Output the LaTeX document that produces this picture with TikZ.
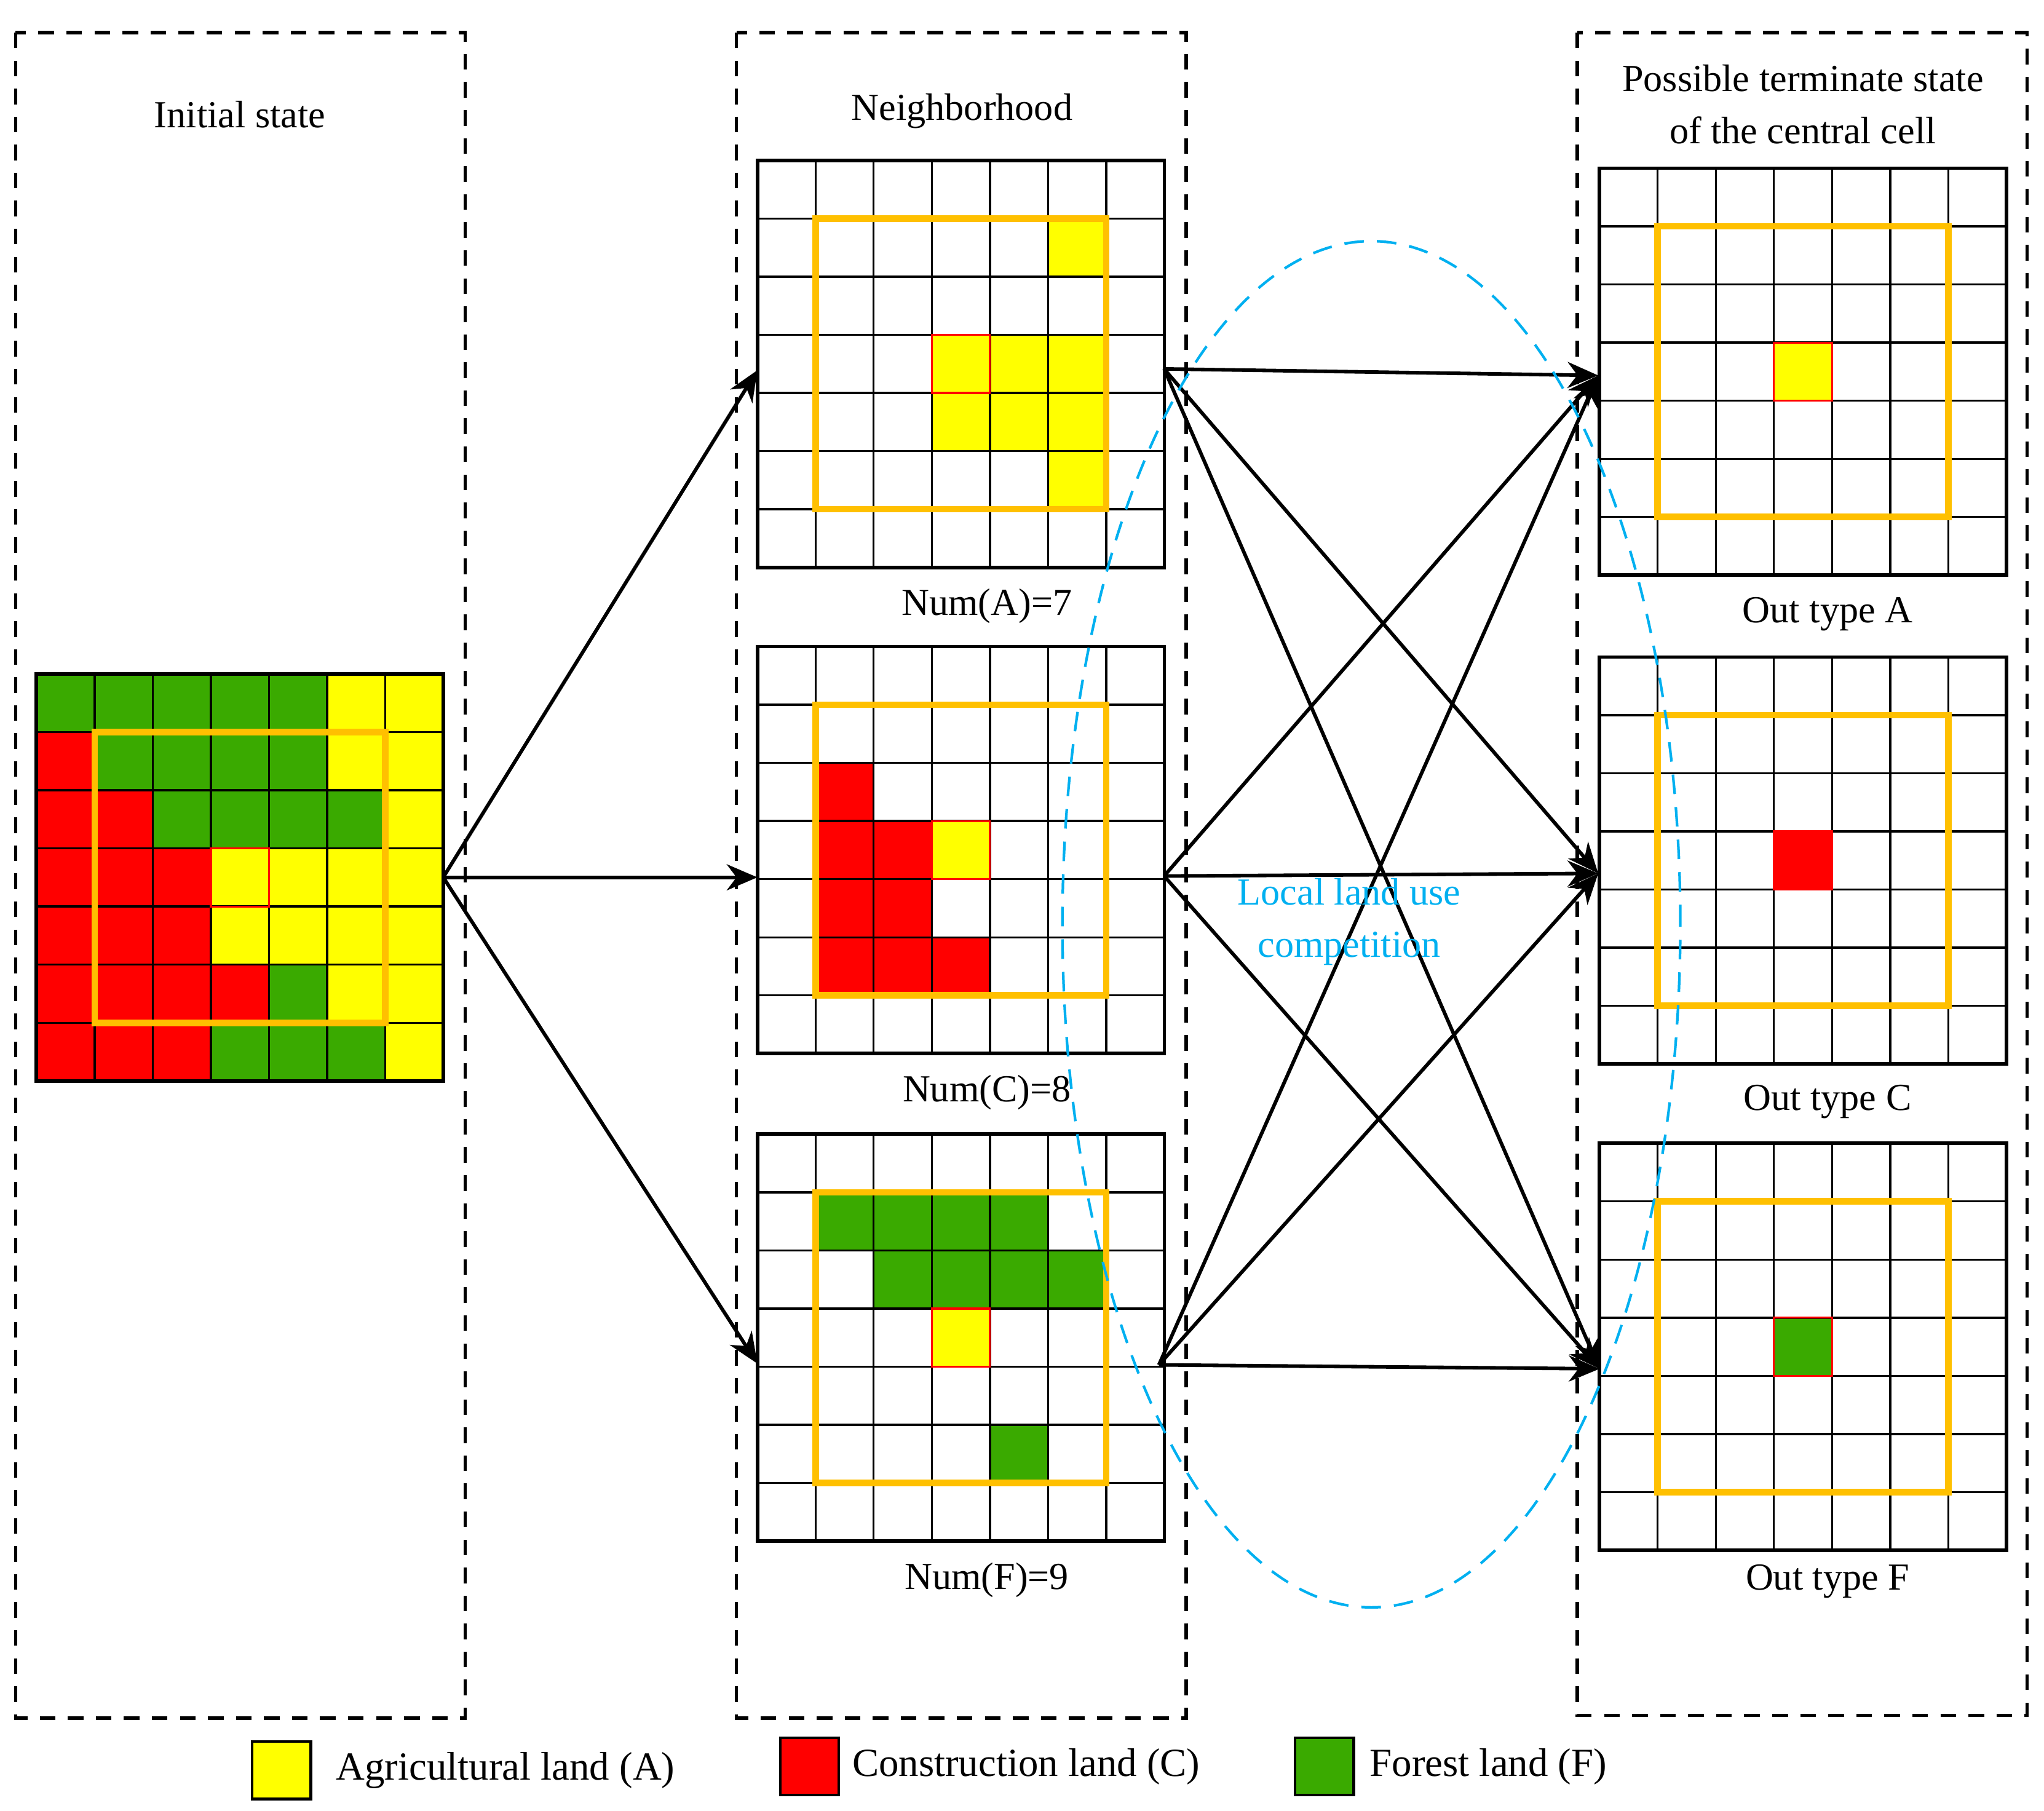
\documentclass[tikz,border=0pt]{standalone}
\usepackage{fontspec}
\setmainfont{Liberation Serif}
\usetikzlibrary{arrows.meta, positioning}

\definecolor{agri}{RGB}{255,255,0}
\definecolor{constr}{RGB}{255,0,0}
\definecolor{forest}{RGB}{58,170,0}
\definecolor{frame}{RGB}{255,192,0}
\definecolor{compete}{RGB}{0,176,240}

\begin{document}
\begin{tikzpicture}[x=0.2mm,y=-0.2mm]

\tikzset{panel/.style = {draw, line width=0.5mm, dash pattern=on 2.4mm off 1.9mm}}
\tikzset{edge/.style = {-{Stealth[length=4.7mm,width=4mm,inset=1.5mm]}, line width=0.55mm}}
\tikzset{txt/.style = {font=\fontsize{16.7}{22.7}\selectfont, align=center}}
\tikzset{keytxt/.style = {font=\fontsize{17.4}{21}\selectfont, inner sep=0pt}}
\tikzset{legendbox/.style = {draw, line width=0.4mm, minimum width=9mm, minimum height=8.8mm, inner sep=0pt}}
\tikzset{cells/.style 2 args = {shift={(#1,#2)}, x=8.92mm, y=-8.92mm}}
\tikzset{cellline/.style = {line width=0.32mm}}

\useasboundingbox (0,0) rectangle (1568,1389);

%panels
\draw[panel] (12,25) rectangle (357,1318);
\draw[panel] (565,25) rectangle (910,1318);
\draw[panel] (1210,25) rectangle (1555,1316);

%initial state
\begin{scope}[cells={28}{517}]
\foreach \row [count=\j from 0] in {
  {forest,forest,forest,forest,forest,agri,agri},
  {constr,forest,forest,forest,forest,agri,agri},
  {constr,constr,forest,forest,forest,forest,agri},
  {constr,constr,constr,agri,agri,agri,agri},
  {constr,constr,constr,agri,agri,agri,agri},
  {constr,constr,constr,constr,forest,agri,agri},
  {constr,constr,constr,forest,forest,forest,agri}}
  \foreach \c [count=\i from 0] in \row
    \fill[\c] (\i,\j) rectangle ++(1,1);
\end{scope}

%neighborhood
\begin{scope}[cells={581}{123}]
\foreach \i/\j in {5/1,3/3,4/3,5/3,3/4,4/4,5/4,5/5}
  \fill[agri] (\i,\j) rectangle ++(1,1);
\end{scope}
\begin{scope}[cells={581}{496}]
\foreach \i/\j in {1/2,1/3,2/3,1/4,2/4,1/5,2/5,3/5}
  \fill[constr] (\i,\j) rectangle ++(1,1);
\fill[agri] (3,3) rectangle ++(1,1);
\end{scope}
\begin{scope}[cells={581}{870}]
\foreach \i/\j in {1/1,2/1,3/1,4/1,2/2,3/2,4/2,5/2,4/5}
  \fill[forest] (\i,\j) rectangle ++(1,1);
\fill[agri] (3,3) rectangle ++(1,1);
\end{scope}

%terminate states
\fill[cells={1227}{129}, agri] (3,3) rectangle ++(1,1);
\fill[cells={1227}{504}, constr] (3,3) rectangle ++(1,1);
\fill[cells={1227}{877}, forest] (3,3) rectangle ++(1,1);

%grids
\foreach \gx/\gy in {28/517, 581/123, 581/496, 581/870, 1227/129, 1227/504, 1227/877}
{
  \begin{scope}[cells={\gx}{\gy}]
    \foreach \k in {1,...,6} {
      \draw[cellline] (\k,0) -- (\k,7);
      \draw[cellline] (0,\k) -- (7,\k);
    }
    \draw[line width=0.55mm] (0,0) rectangle (7,7);
    \draw[constr, line width=0.3mm] (3,3) rectangle (4,4);
    \draw[frame, line width=1mm] (1,1) rectangle (6,6);
  \end{scope}
}

%arrow ends
\coordinate (ini) at (340,673);
\coordinate (nbAin) at (581,284);
\coordinate (nbCin) at (581,673);
\coordinate (nbFin) at (581,1046);
\coordinate (nbAout) at (893,283);
\coordinate (nbCout) at (893,672);
\coordinate (nbFout) at (889,1047);
\coordinate (outA) at (1226,288);
\coordinate (outC) at (1226,670);
\coordinate (outF) at (1227,1050);

\foreach \t in {nbAin,nbCin,nbFin}
  \draw[edge] (ini) -- (\t);
\foreach \s in {nbAout,nbCout,nbFout}
  \foreach \t in {outA,outC,outF}
    \draw[edge] (\s) -- (\t);

%competition
\draw[compete, line width=0.4mm, dash pattern=on 3mm off 2mm] (1052,709) ellipse [x radius=47.4mm, y radius=104.8mm];

%texts
\node[txt] (tini) at (184,88) {Initial state};
\node[txt] (tnb) at (738,85) {Neighborhood};
\node[txt] (tout) at (1383,80) {Possible terminate state\\of the central cell};
\node[txt] (numA) at (757,465) {Num(A)=7};
\node[txt] (numC) at (757,838) {Num(C)=8};
\node[txt] (numF) at (757,1212) {Num(F)=9};
\node[txt] (typeA) at (1402,471) {Out type A};
\node[txt] (typeC) at (1402,845) {Out type C};
\node[txt] (typeF) at (1402,1213) {Out type F};
\node[txt, text=compete] (comp) at (1035,707) {Local land use\\competition};

%legend
\node[legendbox, fill=agri] (kA) at (216,1358) {};
\node[keytxt, right=3.6mm of kA] (lA) {Agricultural land (A)};
\node[legendbox, fill=constr] (kC) at (621,1355) {};
\node[keytxt, right=1.8mm of kC] (lC) {Construction land (C)};
\node[legendbox, fill=forest] (kF) at (1016,1355) {};
\node[keytxt, right=2.2mm of kF] (lF) {Forest land (F)};

\end{tikzpicture}
\end{document}
